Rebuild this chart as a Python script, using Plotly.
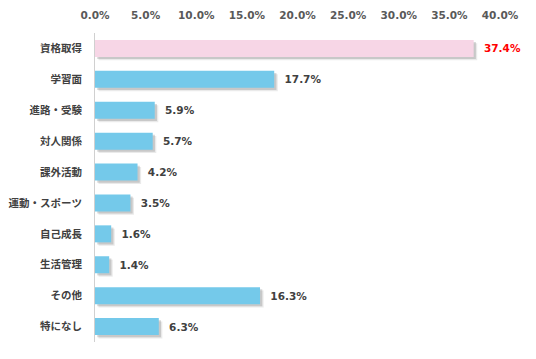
import plotly.graph_objects as go

categories = ["資格取得", "学習面", "進路・受験", "対人関係", "課外活動",
              "運動・スポーツ", "自己成長", "生活管理", "その他", "特になし"]
values = [37.4, 17.7, 5.9, 5.7, 4.2, 3.5, 1.6, 1.4, 16.3, 6.3]
tick_vals = [0, 5, 10, 15, 20, 25, 30, 35, 40]
tick_text = ["0.0%", "5.0%", "10.0%", "15.0%", "20.0%", "25.0%", "30.0%", "35.0%", "40.0%"]

bar_colors = ["#F7D6E6"] + ["#74C9EA"] * (len(values) - 1)
label_colors = ["#FF0000"] + ["#404040"] * (len(values) - 1)

bw = 0.55
fig = go.Figure()
# soft drop shadow (two layers)
for dx, dy, op in [(0.35, 0.11, 0.12), (0.22, 0.07, 0.22)]:
    fig.add_trace(go.Bar(
        y=categories, x=values, base=dx, orientation="h",
        width=bw, offset=-bw / 2 + dy,
        marker=dict(color=f"rgba(80,80,80,{op})", line=dict(width=0)),
        hoverinfo="skip", showlegend=False,
    ))
fig.add_trace(go.Bar(
    y=categories, x=values, orientation="h",
    width=bw, offset=-bw / 2,
    marker=dict(color=bar_colors, line=dict(width=0)),
    text=[f"  {v:.1f}%" for v in values], textposition="outside",
    textfont=dict(family="DejaVu Sans", size=10.5, color=label_colors, weight="bold"),
    cliponaxis=False, showlegend=False,
))

fig.update_layout(
    width=536, height=359,
    margin=dict(l=95, r=36, t=33, b=17, autoexpand=False),
    barmode="overlay",
    plot_bgcolor="white", paper_bgcolor="white",
    xaxis=dict(
        range=[0, 40], side="top", tickvals=tick_vals, ticktext=tick_text,
        showgrid=False, zeroline=False, showline=False, ticks="",
        automargin=False, ticklabelstandoff=11,
        tickfont=dict(family="DejaVu Sans", size=10.5, color="#595959", weight="bold"),
    ),
    yaxis=dict(
        autorange="reversed", showgrid=False, zeroline=False,
        showline=True, linecolor="#D0D0D0", linewidth=1, ticks="",
        ticklabelstandoff=10, automargin=False,
        tickfont=dict(family="Noto Sans CJK JP", size=10.5, color="#404040", weight="bold"),
    ),
)

fig.write_html("out.html", config={"displayModeBar": False},
               post_script="document.body.style.margin='0';")
